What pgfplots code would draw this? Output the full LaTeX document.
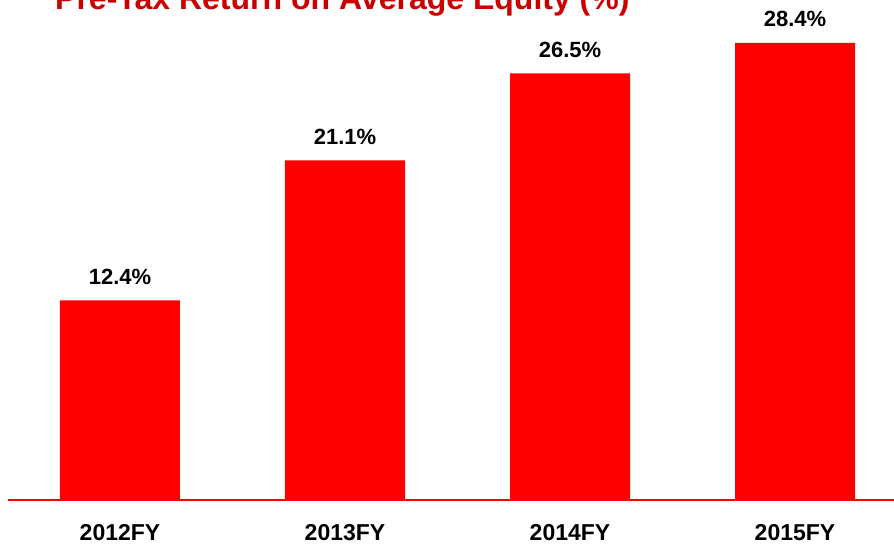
\documentclass[border=0pt]{standalone}
\usepackage{pgfplots}
\pgfplotsset{compat=1.18}
\usepackage{fontspec}
\setmainfont{Liberation Sans}
\definecolor{barred}{RGB}{255,0,0}
\definecolor{titlered}{RGB}{204,0,0}
\begin{document}
\begin{tikzpicture}
\begin{axis}[
  x=225pt, y=16.1pt,
  xmin=-0.498, xmax=3.45,
  ymin=0, ymax=31,
  axis x line*=bottom,
  hide y axis,
  axis line style={barred, line width=2pt, -},
  xtick={0,1,2,3},
  xticklabels={2012FY,2013FY,2014FY,2015FY},
  major tick length=0pt,
  /pgf/number format/assume math mode=true,
  xticklabel style={font=\fontsize{23}{23}\selectfont\bfseries, anchor=base, inner sep=0pt, yshift=-40pt},
  ybar, bar width=120pt, bar shift=0pt,
  clip=false,
  nodes near coords={\pgfmathprintnumber[fixed, fixed zerofill, precision=1, assume math mode=true]{\pgfplotspointmeta}\%},
  every node near coord/.append style={font=\fontsize{22}{22}\selectfont\bfseries, anchor=base, inner sep=0pt, yshift=16pt, black},
]
\addplot[fill=barred, draw=none] coordinates {(0,12.4) (1,21.1) (2,26.5) (3,28.4)};
\coordinate (bl) at (axis cs:-0.5333,-2.733);
\coordinate (tr) at (axis cs:3.44,31.056);
\node[anchor=base west, inner sep=0pt, text=titlered, font=\fontsize{32}{32}\selectfont\bfseries] at (axis cs:-0.2889,30.47) {Pre-Tax Return on Average Equity (\%)};
\end{axis}
\pgfresetboundingbox
\path[use as bounding box] (bl) rectangle (tr);
\end{tikzpicture}
\end{document}
